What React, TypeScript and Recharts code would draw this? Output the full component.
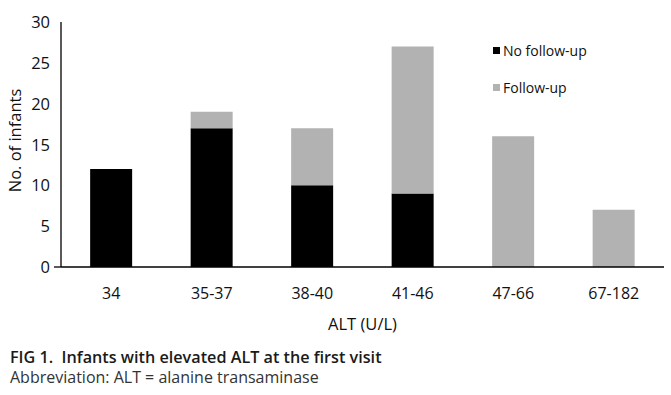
import React from "react";
import { BarChart, Bar, XAxis, YAxis } from "recharts";

const categories = ["34", "35-37", "38-40", "41-46", "47-66", "67-182"];
const noFollowUp = [12, 17, 10, 9, 0, 0];
const followUp = [0, 2, 7, 18, 16, 7];
const yTicks = [0, 5, 10, 15, 20, 25, 30];
const legendLabels = ["No follow-up", "Follow-up"];

const data = categories.map((c, i) => ({
  name: c,
  noFollow: noFollowUp[i],
  follow: followUp[i],
}));

const FONT = "'Open Sans', Lato, sans-serif";
const BLACK = "#000000";
const GREY = "#b2b2b2";

const YTick = (props: any) => {
  const { x, y, payload } = props;
  return (
    <g>
      {payload.value === 0 && (
        <line x1={x + 4} x2={x + 11} y1={y} y2={y} stroke="#000" strokeWidth={1.3} />
      )}
      <text x={x} y={y} dy={6} textAnchor="end" fontSize={16.5} fill="#111" fontFamily={FONT}>
        {payload.value}
      </text>
    </g>
  );
};

export default function App() {
  return (
    <div style={{ position: "absolute", top: 0, left: 0, width: 671, height: 395, background: "#fff" }}>
      <BarChart
        width={671}
        height={340}
        data={data}
        margin={{ top: 22, right: 7, bottom: 3, left: 16 }}
        barCategoryGap="29%"
      >
        <XAxis
          dataKey="name"
          tickLine={false}
          axisLine={{ stroke: "#000", strokeWidth: 1.3 }}
          tick={{ fontSize: 16, fill: "#111", fontFamily: FONT }}
          tickMargin={15}
          height={70}
          label={{ value: "ALT (U/L)", position: "insideBottom", offset: 7, fontSize: 16.5, fill: "#111", fontFamily: FONT }}
        />
        <YAxis
          domain={[0, 30]}
          ticks={yTicks}
          tickLine={false}
          tickSize={0}
          tickMargin={11}
          axisLine={{ stroke: "#000", strokeWidth: 1.3 }}
          tick={<YTick />}
          width={45}
          label={{
            value: "No. of infants",
            angle: -90,
            position: "insideLeft",
            offset: -1,
            dy: -4,
            style: { textAnchor: "middle", fontSize: 16.5, fill: "#111", fontFamily: FONT },
          }}
        />
        <Bar dataKey="noFollow" stackId="a" fill={BLACK} isAnimationActive={false} />
        <Bar dataKey="follow" stackId="a" fill={GREY} isAnimationActive={false} />
      </BarChart>
      <div
        style={{
          position: "absolute",
          left: 493,
          top: 41,
          fontFamily: FONT,
          fontSize: 14,
          color: "#111",
        }}
      >
        {[BLACK, GREY].map((col, i) => (
          <div
            key={i}
            style={{ display: "flex", alignItems: "center", height: 18, marginTop: i === 0 ? 0 : 19 }}
          >
            <span
              style={{ width: 7, height: 7, background: col, display: "inline-block", marginRight: 3 }}
            />
            {legendLabels[i]}
          </div>
        ))}
      </div>
      <div
        style={{
          position: "absolute",
          left: 10,
          top: 346,
          fontFamily: FONT,
          fontSize: 16.2,
          fontWeight: 600,
          color: "#1a1a1a",
          whiteSpace: "nowrap",
        }}
      >
        FIG 1.&nbsp; Infants with elevated ALT at the first visit
      </div>
      <div
        style={{
          position: "absolute",
          left: 10,
          top: 366,
          fontFamily: FONT,
          fontSize: 16,
          color: "#333",
          whiteSpace: "nowrap",
        }}
      >
        Abbreviation: ALT = alanine transaminase
      </div>
    </div>
  );
}
